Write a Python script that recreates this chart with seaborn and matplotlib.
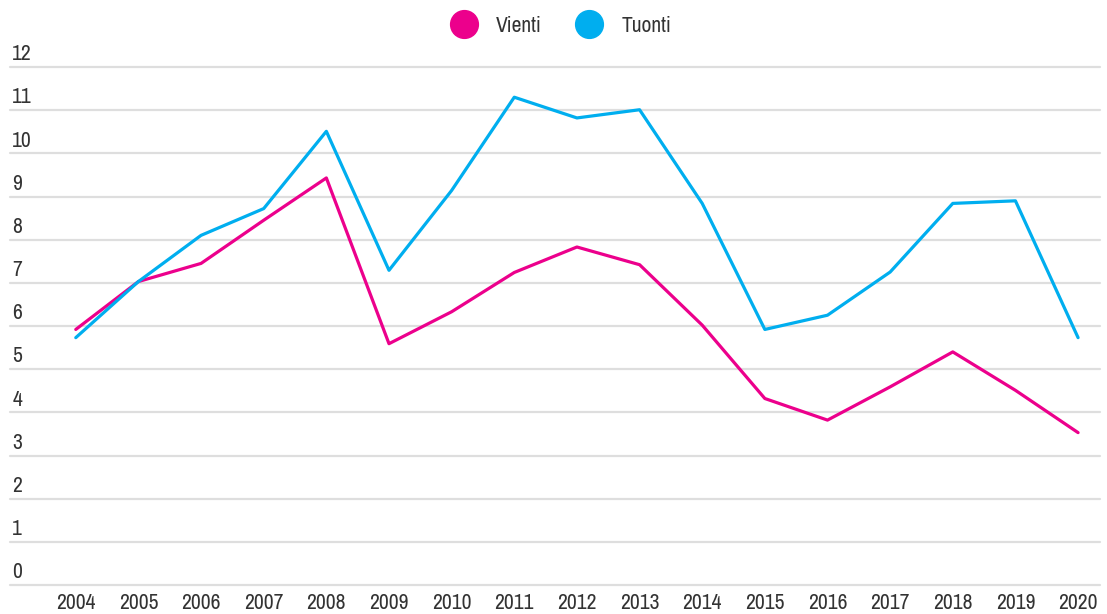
import pandas as pd
import numpy as np
import matplotlib.pyplot as plt
import seaborn as sns
from matplotlib.lines import Line2D
from matplotlib import font_manager

years = list(range(2004, 2021))
vienti = [5.92, 7.03, 7.45, 8.45, 9.43, 5.59, 6.33, 7.24, 7.83, 7.42, 6.02, 4.32, 3.82, 4.59, 5.40, 4.51, 3.53]
tuonti = [5.73, 7.03, 8.10, 8.72, 10.51, 7.29, 9.14, 11.30, 10.82, 11.01, 8.84, 5.92, 6.25, 7.25, 8.84, 8.90, 5.73]
series_names = ["Vienti", "Tuonti"]
y_ticks = list(range(0, 13))

colors = {"Vienti": "#ec008c", "Tuonti": "#00aeef"}

df = pd.DataFrame({"Vuosi": years * 2,
                   "Arvo": vienti + tuonti,
                   "Sarja": ["Vienti"] * len(years) + ["Tuonti"] * len(years)})

sns.set_style("white")

# narrow font if one is around, otherwise condensed DejaVu
narrow = [f.name for f in font_manager.fontManager.ttflist
          if "Narrow" in f.name or "Condensed" in f.name]
plt.rcParams["font.family"] = (narrow[:1] or []) + ["DejaVu Sans"]
plt.rcParams["font.stretch"] = "condensed"

fig = plt.figure(figsize=(11.07, 6.14), dpi=100)
ax = fig.add_axes([10 / 1107, 29 / 614, 1090 / 1107, 518 / 614])

for v in y_ticks:
    ax.axhline(v, color="#dedede", lw=1.6, zorder=0, clip_on=False)

sns.lineplot(data=df, x="Vuosi", y="Arvo", hue="Sarja", palette=colors,
             linewidth=2.3, ax=ax, legend=False, zorder=3)

ax.set_xlim(2002.95, 2020.35)
ax.set_ylim(0, 12)
ax.set_xticks(years)
ax.set_xticklabels([str(y) for y in years], fontsize=15.5, color="#333333")
ax.set_yticks([])
ax.tick_params(axis="x", length=0, pad=6)
ax.set_xlabel("")
ax.set_ylabel("")
for s in ax.spines.values():
    s.set_visible(False)

for v in y_ticks:
    ax.annotate(str(v), xy=(0.002, v), xycoords=("axes fraction", "data"),
                xytext=(0, 2), textcoords="offset points", va="bottom", ha="left",
                fontsize=15.5, color="#333333")

handles = [Line2D([], [], marker="o", linestyle="", markersize=20,
                  markerfacecolor=colors[n], markeredgecolor=colors[n]) for n in series_names]
fig.legend(handles, series_names, loc="center", bbox_to_anchor=(0.503, 0.958), ncol=2,
           frameon=False, fontsize=15.5, handletextpad=0.5, columnspacing=1.2,
           labelcolor="#333333")

plt.savefig("out.png", dpi=100)
